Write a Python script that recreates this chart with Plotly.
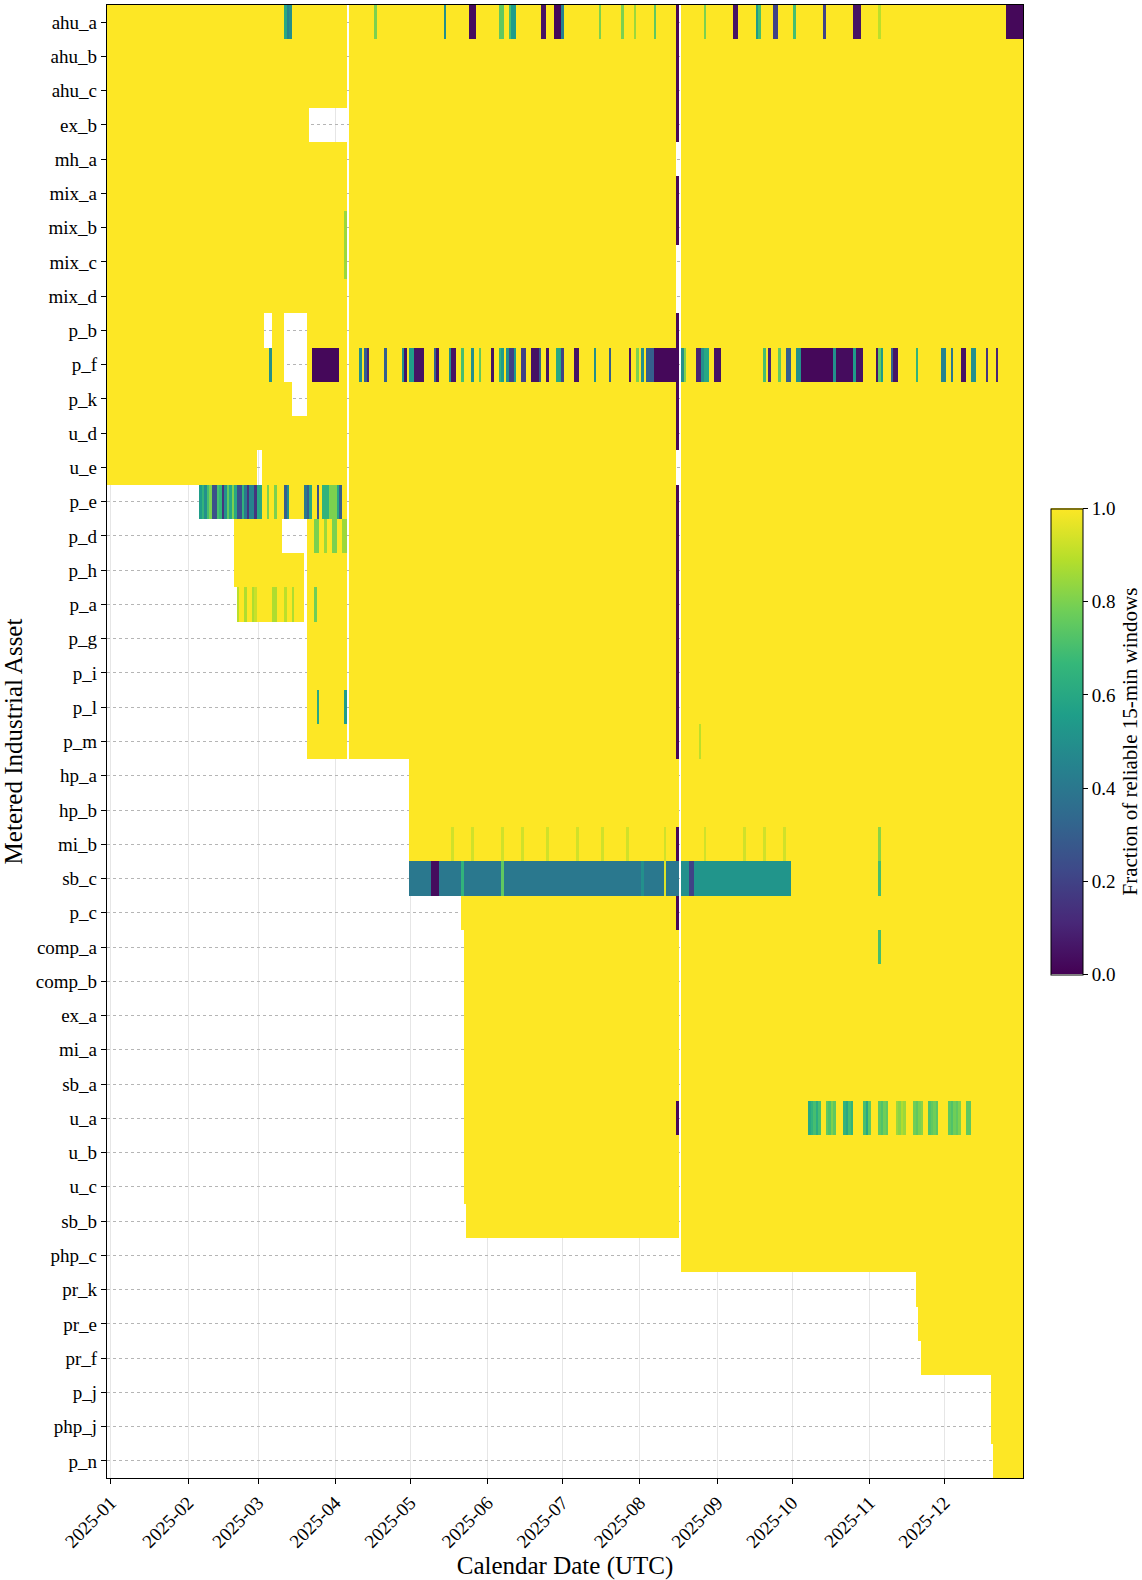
import numpy as np
import pandas as pd
import plotly.graph_objects as go

# ---------------- data ----------------
ASSETS = ["ahu_a", "ahu_b", "ahu_c", "ex_b", "mh_a", "mix_a", "mix_b", "mix_c", "mix_d",
          "p_b", "p_f", "p_k", "u_d", "u_e", "p_e", "p_d", "p_h", "p_a", "p_g", "p_i",
          "p_l", "p_m", "hp_a", "hp_b", "mi_b", "sb_c", "p_c", "comp_a", "comp_b", "ex_a",
          "mi_a", "sb_a", "u_a", "u_b", "u_c", "sb_b", "php_c", "pr_k", "pr_e", "pr_f",
          "p_j", "php_j", "p_n"]

START_DATES = ["2024-12-31"] * 14 + [
    "2025-02-06", "2025-02-20", "2025-02-20", "2025-02-21", "2025-03-21", "2025-03-21",
    "2025-03-21", "2025-03-21", "2025-05-01", "2025-05-01", "2025-05-01", "2025-05-01",
    "2025-05-22", "2025-05-23", "2025-05-23", "2025-05-23", "2025-05-23", "2025-05-23",
    "2025-05-23", "2025-05-23", "2025-05-23", "2025-05-24", "2025-08-18", "2025-11-20",
    "2025-11-21", "2025-11-22", "2025-12-20", "2025-12-20", "2025-12-21"]

END_DATES = ["2026-01-01"] * 43

# days with no data for every asset
SHARED_GAP_DAYS = ["2025-04-06", "2025-08-17"]

# (asset, first missing day, last missing day)
MISSING_SPANS = [
    ("ex_b", "2025-03-22", "2025-04-05"),
    ("p_b", "2025-03-04", "2025-03-06"),
    ("p_b", "2025-03-12", "2025-03-20"),
    ("p_f", "2025-03-12", "2025-03-20"),
    ("p_k", "2025-03-15", "2025-03-20"),
    ("u_e", "2025-03-01", "2025-03-02"),
    ("p_d", "2025-03-11", "2025-03-20"),
    ("p_h", "2025-03-20", "2025-03-20"),
    ("p_a", "2025-03-20", "2025-03-20"),
    ("mh_a", "2025-08-16", "2025-08-16"),
    ("mix_c", "2025-08-16", "2025-08-16"),
    ("mix_d", "2025-08-16", "2025-08-16"),
    ("u_e", "2025-08-16", "2025-08-16"),
]

# assets that reported (almost) nothing reliable on 2025-08-16
AUG16_OUTAGE = ["ahu_a", "ahu_b", "ahu_c", "ex_b", "mix_a", "mix_b", "p_b", "p_f", "p_k",
                "u_d", "p_e", "p_d", "p_h", "p_a", "p_g", "p_i", "p_l", "p_m", "mi_b",
                "p_c", "u_a"]
AUG16_OUTAGE_VALUE = 0.02

# (first day, last day, fraction of reliable windows)
AHU_A_SEGMENTS = [
    ("2025-03-12", "2025-03-12", 0.6), ("2025-03-13", "2025-03-13", 0.45),
    ("2025-03-14", "2025-03-14", 0.5), ("2025-04-17", "2025-04-17", 0.8),
    ("2025-05-15", "2025-05-15", 0.5), ("2025-05-25", "2025-05-27", 0.03),
    ("2025-06-06", "2025-06-07", 0.75), ("2025-06-10", "2025-06-10", 0.7),
    ("2025-06-11", "2025-06-12", 0.55), ("2025-06-23", "2025-06-24", 0.05),
    ("2025-06-28", "2025-06-30", 0.02), ("2025-07-01", "2025-07-01", 0.45),
    ("2025-07-16", "2025-07-16", 0.8), ("2025-07-25", "2025-07-25", 0.8),
    ("2025-07-30", "2025-07-30", 0.85), ("2025-08-07", "2025-08-07", 0.75),
    ("2025-08-27", "2025-08-27", 0.8), ("2025-09-08", "2025-09-09", 0.05),
    ("2025-09-17", "2025-09-17", 0.55), ("2025-09-18", "2025-09-18", 0.7),
    ("2025-09-24", "2025-09-25", 0.2), ("2025-10-02", "2025-10-02", 0.7),
    ("2025-10-14", "2025-10-14", 0.2), ("2025-10-26", "2025-10-28", 0.05),
    ("2025-11-05", "2025-11-05", 0.9), ("2025-12-26", "2026-01-01", 0.02),
]

P_F_SEGMENTS = [
    ("2025-03-06", "2025-03-06", 0.5), ("2025-03-23", "2025-04-02", 0.02),
    ("2025-04-11", "2025-04-11", 0.5), ("2025-04-13", "2025-04-13", 0.3),
    ("2025-04-14", "2025-04-14", 0.1), ("2025-04-21", "2025-04-21", 0.3),
    ("2025-04-28", "2025-04-28", 0.5), ("2025-04-29", "2025-04-29", 0.05),
    ("2025-05-01", "2025-05-02", 0.55), ("2025-05-03", "2025-05-06", 0.05),
    ("2025-05-11", "2025-05-11", 0.3), ("2025-05-12", "2025-05-12", 0.05),
    ("2025-05-17", "2025-05-17", 0.5), ("2025-05-18", "2025-05-19", 0.05),
    ("2025-05-22", "2025-05-22", 0.7), ("2025-05-26", "2025-05-26", 0.5),
    ("2025-05-29", "2025-05-29", 0.75), ("2025-06-03", "2025-06-03", 0.05),
    ("2025-06-06", "2025-06-06", 0.65), ("2025-06-07", "2025-06-07", 0.55),
    ("2025-06-09", "2025-06-09", 0.5), ("2025-06-10", "2025-06-11", 0.2),
    ("2025-06-12", "2025-06-12", 0.55), ("2025-06-15", "2025-06-16", 0.2),
    ("2025-06-19", "2025-06-21", 0.05), ("2025-06-22", "2025-06-22", 0.3),
    ("2025-06-25", "2025-06-25", 0.05), ("2025-06-29", "2025-06-30", 0.6),
    ("2025-07-01", "2025-07-01", 0.2), ("2025-07-06", "2025-07-07", 0.05),
    ("2025-07-14", "2025-07-14", 0.5), ("2025-07-20", "2025-07-20", 0.3),
    ("2025-07-28", "2025-07-28", 0.05), ("2025-07-31", "2025-07-31", 0.8),
    ("2025-08-02", "2025-08-02", 0.5), ("2025-08-04", "2025-08-06", 0.3),
    ("2025-08-07", "2025-08-16", 0.02), ("2025-08-18", "2025-08-18", 0.5),
    ("2025-08-19", "2025-08-19", 0.8), ("2025-08-24", "2025-08-25", 0.1),
    ("2025-08-26", "2025-08-26", 0.5), ("2025-08-27", "2025-08-28", 0.6),
    ("2025-08-31", "2025-09-02", 0.05), ("2025-09-20", "2025-09-20", 0.7),
    ("2025-09-22", "2025-09-22", 0.1), ("2025-09-26", "2025-09-26", 0.75),
    ("2025-09-29", "2025-09-30", 0.3), ("2025-10-03", "2025-10-04", 0.5),
    ("2025-10-05", "2025-10-17", 0.02), ("2025-10-18", "2025-10-18", 0.5),
    ("2025-10-19", "2025-10-25", 0.03), ("2025-10-26", "2025-10-26", 0.55),
    ("2025-10-27", "2025-10-29", 0.05), ("2025-11-04", "2025-11-04", 0.05),
    ("2025-11-05", "2025-11-05", 0.75), ("2025-11-06", "2025-11-06", 0.55),
    ("2025-11-10", "2025-11-10", 0.3), ("2025-11-11", "2025-11-12", 0.05),
    ("2025-11-20", "2025-11-20", 0.65), ("2025-11-30", "2025-12-01", 0.45),
    ("2025-12-04", "2025-12-04", 0.4), ("2025-12-08", "2025-12-09", 0.05),
    ("2025-12-12", "2025-12-13", 0.5), ("2025-12-18", "2025-12-18", 0.15),
    ("2025-12-22", "2025-12-22", 0.1),
]

P_E_SEGMENTS = [
    ("2025-02-06", "2025-02-06", 0.55), ("2025-02-07", "2025-02-07", 0.65),
    ("2025-02-08", "2025-02-08", 0.5), ("2025-02-09", "2025-02-09", 0.7),
    ("2025-02-10", "2025-02-10", 0.8), ("2025-02-11", "2025-02-12", 0.25),
    ("2025-02-13", "2025-02-13", 0.7), ("2025-02-14", "2025-02-14", 0.65),
    ("2025-02-15", "2025-02-15", 0.15), ("2025-02-16", "2025-02-16", 0.5),
    ("2025-02-17", "2025-02-17", 0.75), ("2025-02-18", "2025-02-18", 0.6),
    ("2025-02-19", "2025-02-19", 0.8), ("2025-02-20", "2025-02-20", 0.6),
    ("2025-02-21", "2025-02-22", 0.25), ("2025-02-23", "2025-02-23", 0.65),
    ("2025-02-24", "2025-02-24", 0.4), ("2025-02-25", "2025-02-25", 0.15),
    ("2025-02-26", "2025-02-27", 0.45), ("2025-02-28", "2025-02-28", 0.15),
    ("2025-03-01", "2025-03-02", 0.6), ("2025-03-05", "2025-03-05", 0.8),
    ("2025-03-08", "2025-03-08", 0.8), ("2025-03-12", "2025-03-12", 0.3),
    ("2025-03-13", "2025-03-13", 0.5), ("2025-03-20", "2025-03-20", 0.4),
    ("2025-03-21", "2025-03-21", 0.3), ("2025-03-22", "2025-03-22", 0.6),
    ("2025-03-25", "2025-03-25", 0.25), ("2025-03-27", "2025-03-29", 0.65),
    ("2025-03-30", "2025-04-01", 0.8), ("2025-04-02", "2025-04-02", 0.6),
    ("2025-04-03", "2025-04-03", 0.3),
]

P_D_SEGMENTS = [
    ("2025-03-24", "2025-03-25", 0.8), ("2025-03-28", "2025-03-28", 0.85),
    ("2025-03-31", "2025-04-01", 0.8), ("2025-04-04", "2025-04-05", 0.85),
]

P_A_SEGMENTS = [
    ("2025-02-21", "2025-02-21", 0.9), ("2025-02-24", "2025-02-24", 0.88),
    ("2025-02-27", "2025-02-27", 0.88), ("2025-02-28", "2025-02-28", 0.92),
    ("2025-03-07", "2025-03-08", 0.88), ("2025-03-12", "2025-03-12", 0.9),
    ("2025-03-15", "2025-03-15", 0.88), ("2025-03-24", "2025-03-24", 0.78),
]

P_L_SEGMENTS = [("2025-03-25", "2025-03-25", 0.6), ("2025-04-05", "2025-04-05", 0.55)]
MIX_B_SEGMENTS = [("2025-04-05", "2025-04-05", 0.85)]
MIX_C_SEGMENTS = [("2025-04-05", "2025-04-05", 0.85)]
P_M_SEGMENTS = [("2025-08-25", "2025-08-25", 0.9)]

MI_B_SEGMENTS = [
    ("2025-05-18", "2025-05-18", 0.93), ("2025-05-26", "2025-05-26", 0.93),
    ("2025-06-07", "2025-06-07", 0.93), ("2025-06-15", "2025-06-15", 0.93),
    ("2025-06-25", "2025-06-25", 0.93), ("2025-07-07", "2025-07-07", 0.93),
    ("2025-07-17", "2025-07-17", 0.93), ("2025-07-27", "2025-07-27", 0.93),
    ("2025-08-11", "2025-08-11", 0.93), ("2025-08-27", "2025-08-27", 0.93),
    ("2025-09-12", "2025-09-12", 0.93), ("2025-09-20", "2025-09-20", 0.93),
    ("2025-09-28", "2025-09-28", 0.93), ("2025-11-05", "2025-11-05", 0.82),
]

SB_C_SEGMENTS = [
    ("2025-05-01", "2025-08-16", 0.4), ("2025-05-10", "2025-05-12", 0.03),
    ("2025-05-22", "2025-05-22", 0.65), ("2025-06-07", "2025-06-07", 0.75),
    ("2025-08-02", "2025-08-02", 0.5), ("2025-08-11", "2025-08-11", 0.95),
    ("2025-08-18", "2025-08-20", 0.5), ("2025-08-21", "2025-08-22", 0.2),
    ("2025-08-23", "2025-09-30", 0.52), ("2025-11-05", "2025-11-05", 0.7),
]

COMP_A_SEGMENTS = [("2025-11-05", "2025-11-05", 0.7)]

U_A_SEGMENTS = [
    ("2025-10-08", "2025-10-08", 0.6), ("2025-10-09", "2025-10-09", 0.65),
    ("2025-10-10", "2025-10-10", 0.7), ("2025-10-11", "2025-10-11", 0.62),
    ("2025-10-12", "2025-10-12", 0.7), ("2025-10-15", "2025-10-15", 0.75),
    ("2025-10-16", "2025-10-16", 0.72), ("2025-10-17", "2025-10-17", 0.8),
    ("2025-10-18", "2025-10-18", 0.75), ("2025-10-22", "2025-10-22", 0.65),
    ("2025-10-23", "2025-10-23", 0.6), ("2025-10-24", "2025-10-24", 0.7),
    ("2025-10-25", "2025-10-25", 0.65), ("2025-10-30", "2025-10-30", 0.7),
    ("2025-10-31", "2025-10-31", 0.6), ("2025-11-01", "2025-11-01", 0.75),
    ("2025-11-05", "2025-11-05", 0.75), ("2025-11-06", "2025-11-06", 0.72),
    ("2025-11-07", "2025-11-07", 0.78), ("2025-11-08", "2025-11-08", 0.75),
    ("2025-11-12", "2025-11-12", 0.85), ("2025-11-13", "2025-11-13", 0.82),
    ("2025-11-14", "2025-11-14", 0.88), ("2025-11-15", "2025-11-15", 0.85),
    ("2025-11-19", "2025-11-19", 0.78), ("2025-11-20", "2025-11-20", 0.75),
    ("2025-11-21", "2025-11-21", 0.8), ("2025-11-22", "2025-11-22", 0.82),
    ("2025-11-25", "2025-11-25", 0.72), ("2025-11-26", "2025-11-26", 0.75),
    ("2025-11-27", "2025-11-27", 0.78), ("2025-11-28", "2025-11-28", 0.74),
    ("2025-12-03", "2025-12-03", 0.75), ("2025-12-04", "2025-12-04", 0.72),
    ("2025-12-05", "2025-12-05", 0.78), ("2025-12-06", "2025-12-06", 0.75),
    ("2025-12-07", "2025-12-07", 0.8), ("2025-12-10", "2025-12-11", 0.75),
]

MONTH_TICKS = ["2025-01-01", "2025-02-01", "2025-03-01", "2025-04-01", "2025-05-01",
               "2025-06-01", "2025-07-01", "2025-08-01", "2025-09-01", "2025-10-01",
               "2025-11-01", "2025-12-01"]
MONTH_LABELS = ["2025-01", "2025-02", "2025-03", "2025-04", "2025-05", "2025-06",
                "2025-07", "2025-08", "2025-09", "2025-10", "2025-11", "2025-12"]
CBAR_TICKS = [0.0, 0.2, 0.4, 0.6, 0.8, 1.0]

# ---------------- build the matrix ----------------
SEGMENTS_BY_ASSET = {
    "ahu_a": AHU_A_SEGMENTS, "p_f": P_F_SEGMENTS, "p_e": P_E_SEGMENTS,
    "p_d": P_D_SEGMENTS, "p_a": P_A_SEGMENTS, "p_l": P_L_SEGMENTS,
    "mix_b": MIX_B_SEGMENTS, "mix_c": MIX_C_SEGMENTS, "p_m": P_M_SEGMENTS,
    "mi_b": MI_B_SEGMENTS, "sb_c": SB_C_SEGMENTS, "comp_a": COMP_A_SEGMENTS,
    "u_a": U_A_SEGMENTS,
}

DAYS = pd.date_range("2024-12-31", "2026-01-01", freq="D")
D0 = DAYS[0]


def idx(s):
    return (pd.Timestamp(s) - D0).days


Z = np.full((len(ASSETS), len(DAYS)), np.nan)
for i, (s, e) in enumerate(zip(START_DATES, END_DATES)):
    Z[i, idx(s):idx(e) + 1] = 1.0
for a, segs in SEGMENTS_BY_ASSET.items():
    r = ASSETS.index(a)
    for s, e, v in segs:
        Z[r, idx(s):idx(e) + 1] = v
for a in AUG16_OUTAGE:
    Z[ASSETS.index(a), idx("2025-08-16")] = AUG16_OUTAGE_VALUE
for a, s, e in MISSING_SPANS:
    Z[ASSETS.index(a), idx(s):idx(e) + 1] = np.nan
for d in SHARED_GAP_DAYS:
    Z[:, idx(d)] = np.nan

# ---------------- figure ----------------
FONT = "Liberation Serif"

fig = go.Figure(go.Heatmap(
    z=Z, x=DAYS, y=ASSETS,
    colorscale="Viridis", zmin=0, zmax=1,
    hoverongaps=False,
    colorbar=dict(
        title=dict(text="Fraction of reliable 15-min windows", side="right",
                   font=dict(family=FONT, size=21, color="black")),
        tickvals=CBAR_TICKS, ticktext=[f"{v:.1f}" for v in CBAR_TICKS],
        tickfont=dict(family=FONT, size=19, color="black"),
        ticks="outside", ticklen=5, tickcolor="black",
        outlinewidth=1, outlinecolor="black",
        thickness=32, lenmode="pixels", len=486,
        x=1.02, xanchor="left", y=0.5, yanchor="middle",
    ),
))

fig.update_layout(
    width=1142, height=1580,
    margin=dict(l=107, r=119, t=5, b=102, autoexpand=False),
    paper_bgcolor="white", plot_bgcolor="white",
    font=dict(family=FONT, color="black"),
    xaxis=dict(
        type="date", automargin=False,
        range=["2024-12-30 12:00", "2026-01-01 12:00"],
        tickvals=MONTH_TICKS, ticktext=MONTH_LABELS, tickangle=-45,
        tickfont=dict(family=FONT, size=19, color="black"),
        ticks="outside", ticklen=5, tickcolor="black",
        showgrid=True, gridcolor="#e6e6e6", gridwidth=1,
        showline=True, mirror=True, linecolor="black", linewidth=1.3,
        zeroline=False,
        title=dict(text="Calendar Date (UTC)", standoff=6,
                   font=dict(family=FONT, size=25, color="black")),
    ),
    yaxis=dict(
        type="category", automargin=False,
        range=[len(ASSETS) - 0.5, -0.5],
        tickfont=dict(family=FONT, size=19, color="black"),
        ticks="outside", ticklen=5, tickcolor="black",
        showgrid=True, gridcolor="#b5b5b5", gridwidth=1, griddash="dot",
        showline=True, mirror=True, linecolor="black", linewidth=1.3,
        zeroline=False,
        title=dict(text="Metered Industrial Asset",
                   font=dict(family=FONT, size=25, color="black")),
    ),
)

fig.write_html("out.html", config={"displayModeBar": False},
               post_script="document.body.style.margin='0';")
